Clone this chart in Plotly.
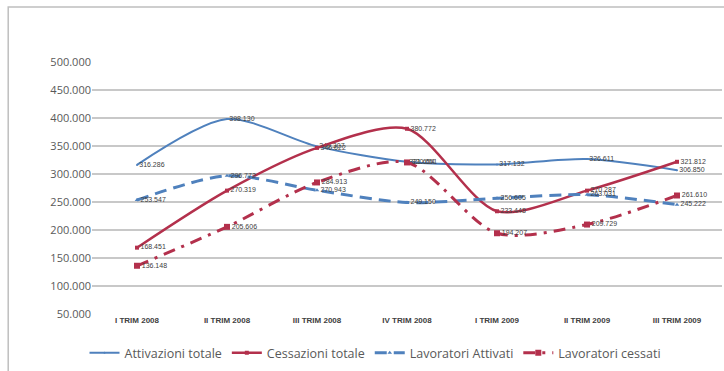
import plotly.graph_objects as go

# Quarterly categories
quarters = ["I TRIM 2008", "II TRIM 2008", "III TRIM 2008", "IV TRIM 2008",
            "I TRIM 2009", "II TRIM 2009", "III TRIM 2009"]

# Series values
attivazioni_totale = [316286, 398130, 349307, 321654, 317132, 326611, 306850]
cessazioni_totale = [168451, 270319, 346622, 380772, 233448, 270287, 321812]
lavoratori_attivati = [253547, 296772, 270943, 249150, 256605, 263031, 245222]
lavoratori_cessati = [136148, 205606, 284913, 320651, 194207, 209729, 261610]

# Axis ticks
y_ticks = [50000, 100000, 150000, 200000, 250000, 300000, 350000, 400000, 450000, 500000]


def it_num(v):
    return f"{v:,}".replace(",", ".")


BLUE = "#4f81bd"
RED = "#b3304c"
LABEL_FONT = dict(family="Liberation Sans, Arial", size=7, color="#404040")

series = [
    dict(name="Attivazioni totale", y=attivazioni_totale, color=BLUE,
         dash="solid", width=2, symbol="circle", msize=2),
    dict(name="Cessazioni totale", y=cessazioni_totale, color=RED,
         dash="solid", width=2.5, symbol="square", msize=4),
    dict(name="Lavoratori Attivati", y=lavoratori_attivati, color=BLUE,
         dash="12px,7px", width=3, symbol="triangle-up", msize=4),
    dict(name="Lavoratori cessati", y=lavoratori_cessati, color=RED,
         dash="12px,7px,3px,7px", width=3, symbol="square", msize=6),
]

fig = go.Figure()
for s in series:
    fig.add_trace(go.Scatter(
        x=quarters, y=s["y"], name=s["name"],
        mode="lines+markers+text",
        line=dict(color=s["color"], width=s["width"], dash=s["dash"], shape="spline", smoothing=0.8),
        marker=dict(color=s["color"], size=s["msize"], symbol=s["symbol"]),
        text=[it_num(v) for v in s["y"]],
        textposition="middle right",
        textfont=LABEL_FONT,
        cliponaxis=False,
    ))

fig.update_layout(
    width=724, height=371,
    margin=dict(l=92, r=2, t=62, b=57),
    paper_bgcolor="white",
    plot_bgcolor="white",
    separators=",.",
    font=dict(family="Open Sans, Liberation Sans, Arial", color="#595959"),
    showlegend=True,
    legend=dict(orientation="h", x=0.45, xanchor="center", y=-0.155, yanchor="middle",
                font=dict(size=12.5, color="#595959"), itemwidth=30,
                tracegroupgap=0, bgcolor="rgba(0,0,0,0)"),
    xaxis=dict(
        type="category", showgrid=False, zeroline=False, showline=False,
        ticks="", tickfont=dict(size=8, color="#404040", family="Liberation Sans, Arial"),
        tickvals=quarters, ticktext=[f"<b>{q}</b>" for q in quarters],
        range=[-0.5, 6.5],
    ),
    yaxis=dict(
        range=[50000, 500000], tickvals=y_ticks, tickformat=",d",
        showgrid=True, gridcolor="#c8c8c8", gridwidth=1.5,
        zeroline=False, showline=False, ticks="",
        tickfont=dict(size=11, color="#595959"), ticksuffix="   ",
    ),
    shapes=[
        dict(type="rect", xref="paper", yref="paper",
             x0=-0.133, x1=1.05, y0=-0.3, y1=1.218,
             line=dict(color="#bfbfbf", width=1.5), fillcolor="rgba(0,0,0,0)", layer="below"),
    ],
)

fig.write_html("out.html")
